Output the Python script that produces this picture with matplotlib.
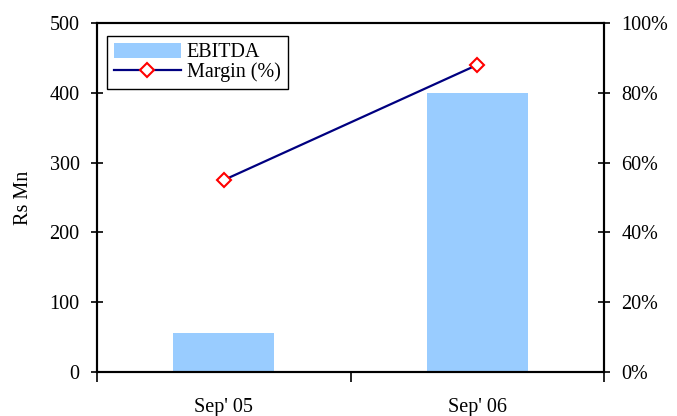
import numpy as np
import matplotlib.pyplot as plt
from matplotlib.lines import Line2D
from matplotlib.patches import Patch

# EBITDA (Rs Mn) y margen por periodo
periodos = ["Sep' 05", "Sep' 06"]
ebitda = [56, 400]
margen = [55, 88]

plt.rcParams['font.family'] = ['Liberation Serif', 'DejaVu Serif']
fs = 14.5

fig = plt.figure(figsize=(6.77, 4.16), dpi=100)
ax = fig.add_axes([0.1433, 0.1058, 0.7489, 0.8389])
x = np.arange(len(periodos))

ax.bar(x, ebitda, width=0.4, color='#99CCFF', zorder=2)
ax.set_xlim(-0.5, 1.5)
ax.set_ylim(0, 500)
ax.set_yticks(range(0, 501, 100))
ax.set_ylabel('Rs Mn', fontsize=fs, labelpad=12)

# marcas en los limites de categoria, etiquetas centradas
ax.set_xticks([-0.5, 0.5, 1.5])
ax.set_xticklabels([])
ax.set_xticks(x, minor=True)
ax.set_xticklabels(periodos, minor=True, fontsize=fs)
ax.tick_params(axis='x', which='major', direction='out', length=7, width=1.2)
ax.tick_params(axis='x', which='minor', length=0, pad=19)
ax.tick_params(axis='y', direction='inout', length=9, width=1.2, labelsize=fs, pad=8)

ax2 = ax.twinx()
ax2.plot(x, margen, color='#000080', lw=1.6, marker='D', ms=7,
         mfc='white', mec='red', mew=1.5, zorder=3)
ax2.set_ylim(0, 100)
ax2.set_yticks(range(0, 101, 20))
ax2.set_yticklabels([f'{v}%' for v in range(0, 101, 20)])
ax2.tick_params(axis='y', direction='inout', length=9, width=1.2, labelsize=fs, pad=8)

for a in (ax, ax2):
    for s in a.spines.values():
        s.set_linewidth(1.5)
        s.set_color('black')

handles = [Patch(facecolor='#99CCFF', edgecolor='none'),
           Line2D([], [], color='#000080', lw=1.6, marker='D', ms=7,
                  mfc='white', mec='red', mew=1.5)]
leg = ax2.legend(handles, ['EBITDA', 'Margin (%)'], loc='upper left',
                 bbox_to_anchor=(0.02, 0.963), fontsize=fs, frameon=True,
                 fancybox=False, edgecolor='black', framealpha=1,
                 handlelength=3.3, handleheight=0.75, borderpad=0.35,
                 labelspacing=0.0, handletextpad=0.3, borderaxespad=0)
leg.get_frame().set_linewidth(1.0)

fig.savefig('out.png', dpi=100)
